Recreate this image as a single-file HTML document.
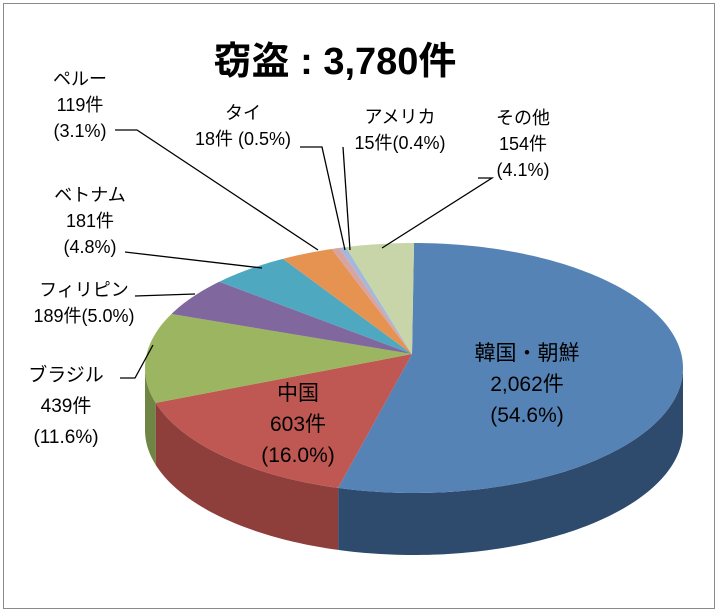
<!DOCTYPE html>
<html><head><meta charset="utf-8">
<style>
body{margin:0;background:#fff;}
#wrap{position:relative;width:722px;height:616px;overflow:hidden;background:#fff;font-family:"Liberation Sans","Noto Sans CJK JP",sans-serif;}
#frame{position:absolute;left:3px;top:3px;width:712px;height:606px;border:1px solid #8a8a8a;box-sizing:border-box;}
.t{position:absolute;color:#000;font-size:18px;line-height:26px;text-align:center;white-space:nowrap;transform:translateX(-50%);}
.big{font-size:21px;line-height:31px;}
#title{position:absolute;left:335px;top:30px;transform:translateX(-50%);font-size:38px;font-weight:bold;white-space:nowrap;}
svg{position:absolute;left:0;top:0;}
</style></head><body>
<div id="wrap">
<div id="frame"></div>
<div id="title">窃盗 : 3,780件</div>
<svg id="pie" width="722" height="616"></svg>
<div class="t" style="left:80px;top:66px">ペルー<br>119件<br>(3.1%)</div>
<div class="t" style="left:243px;top:100px">タイ<br>18件 (0.5%)</div>
<div class="t" style="left:400px;top:104px">アメリカ<br>15件(0.4%)</div>
<div class="t" style="left:523px;top:105px">その他<br>154件<br>(4.1%)</div>
<div class="t" style="left:90px;top:182px">ベトナム<br>181件<br>(4.8%)</div>
<div class="t" style="left:84px;top:277px">フィリピン<br>189件(5.0%)</div>
<div class="t" style="left:66px;top:360px;line-height:31px;font-size:19px">ブラジル<br>439件<br>(11.6%)</div>
<div class="t big" style="left:527px;top:338px">韓国・朝鮮<br>2,062件<br>(54.6%)</div>
<div class="t big" style="left:298px;top:378px">中国<br>603件<br>(16.0%)</div>
</div>
<script>
const categories=["韓国・朝鮮","中国","ブラジル","フィリピン","ベトナム","ペルー","タイ","アメリカ","その他"];
const counts=[2062,603,439,189,181,119,18,15,154];
const topColors=["#5683b6","#bf5752","#9bb561","#80679e","#4ea8bf","#e69352","#d7a3a3","#a4b8d9","#c8d5a8"];
const sideColors=["#2e4a6c","#8e3f3c","#6f8543","#5b4975","#357a8c","#aa6a38","#a07878","#7886a0","#93a078"];
const leaders=[
 [[115,130],[137,130],[318,250]],
 [[300,147],[322,147],[345,250]],
 [[343,147],[350,250]],
 [[478,178],[492,178],[382,248]],
 [[125,252],[262,268]],
 [[135,296],[195,294]],
 [[120,378],[135,378],[153,345]]
];
const cx=414,cy=368,rx=269,ry=125,depth=62;
const apexX=412,apexY=354;
const svg=document.getElementById('pie');
const NS="http://www.w3.org/2000/svg";
const total=counts.reduce((a,b)=>a+b,0);
function pt(a,dy){return [cx+rx*Math.sin(a),cy-ry*Math.cos(a)+(dy||0)];}
function arc(a1,a2,dy){let s="";const n=Math.max(2,Math.ceil((a2-a1)/0.02));for(let i=0;i<=n;i++){const p=pt(a1+(a2-a1)*i/n,dy);s+=p[0].toFixed(2)+","+p[1].toFixed(2)+" ";}return s;}
let acc=0;const angles=counts.map(v=>{const a1=acc/total*2*Math.PI;acc+=v;return [a1,acc/total*2*Math.PI];});
angles.forEach((ang,i)=>{
  const a1=Math.max(ang[0],Math.PI/2),a2=Math.min(ang[1],1.5*Math.PI);
  if(a2<=a1)return;
  const top=arc(a1,a2,0).trim().split(" ");
  const bot=arc(a1,a2,depth).trim().split(" ").reverse();
  const p=document.createElementNS(NS,'polygon');
  p.setAttribute('points',top.concat(bot).join(" "));
  p.setAttribute('fill',sideColors[i]);
  
  
  svg.appendChild(p);
});
angles.forEach((ang,i)=>{
  const p=document.createElementNS(NS,'polygon');
  p.setAttribute('points',apexX+","+apexY+" "+arc(ang[0],ang[1],0));
  p.setAttribute('fill',topColors[i]);
  
  
  svg.appendChild(p);
});
leaders.forEach((l,i)=>{
  const p=document.createElementNS(NS,'polyline');
  p.setAttribute('points',l.map(q=>q.join(",")).join(" "));
  p.setAttribute('fill','none');p.setAttribute('stroke','#000');p.setAttribute('stroke-width','1.3');
  
  
  svg.appendChild(p);
});
</script>
</body></html>
